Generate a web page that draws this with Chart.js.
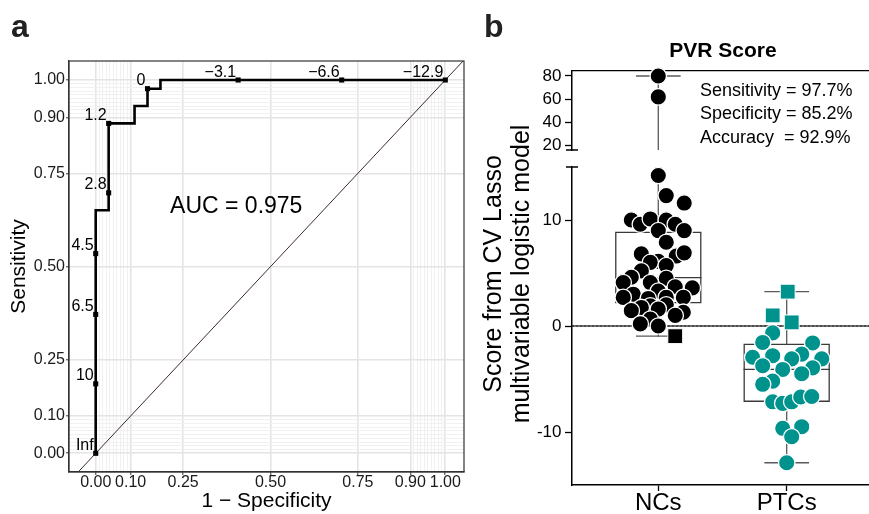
<!DOCTYPE html>
<html>
<head>
<meta charset="utf-8">
<script src="https://cdn.jsdelivr.net/npm/chart.js@4.4.1/dist/chart.umd.min.js"></script>
<style>
  html, body { margin: 0; padding: 0; background: #ffffff; }
  #stage { position: relative; width: 869px; height: 514px; overflow: hidden; background: #ffffff; }
  #stage canvas { position: absolute; left: 0; top: 0; }
</style>
</head>
<body>
<div id="stage">
  <canvas id="rocCanvas" width="869" height="514"></canvas>
  <canvas id="lowCanvas" width="869" height="514"></canvas>
  <canvas id="upCanvas" width="869" height="514"></canvas>
</div>
<script>
// ======================= DATA =======================
// ---- Panel a: ROC curve (43 NCs, 27 PTCs) ----
const rocFpr = [0, 0, 1/27, 1/27, 3/27, 3/27, 4/27, 4/27, 5/27, 5/27, 1];
const rocTpr = [0, 28/43, 28/43, 38/43, 38/43, 40/43, 40/43, 42/43, 42/43, 1, 1];
const thrLabels = ['Inf', '10', '6.5', '4.5', '2.8', '1.2', '0', '\u22123.1', '\u22126.6', '\u221212.9'];
const thrFpr = [0, 0, 0, 0, 1/27, 1/27, 4/27, 11/27, 19/27, 1];
const thrTpr = [0, 8/43, 16/43, 23/43, 30/43, 38/43, 42/43, 1, 1, 1];
const aucText = 'AUC = 0.975';
const rocMajorTicks = [0, 0.1, 0.25, 0.5, 0.75, 0.9, 1];
const rocMinorTicks = [0.01, 0.02, 0.03, 0.04, 0.05, 0.06, 0.07, 0.08, 0.09,
                       0.91, 0.92, 0.93, 0.94, 0.95, 0.96, 0.97, 0.98, 0.99];
const rocXTitle = '1 \u2212 Specificity';
const rocYTitle = 'Sensitivity';

// ---- Panel b: PVR score ----
const groups = ['NCs', 'PTCs'];
const groupPos = [1, 2];
const ncValues = [80, 62, 14.2, 12.3, 11.6, 10.0, 9.6, 10.1, 10.0, 9.6, 9.0, 9.0, 7.9, 6.8, 6.6,
                  6.9, 6.1, 6.0, 5.7, 5.2, 4.6, 4.1, 4.5, 4.1, 3.7, 3.6, 3.0, 2.7, 3.3, 2.7,
                  2.7, 2.6, 2.0, 1.9, 1.75, 1.45, 1.6, 1.3, 1.0, 0.65, 0.2, 0.0];
const ncSwarm  = [0, 0, 0, 0.062, 0.202, -0.210, -0.140, -0.062, 0.062, 0.132, 0, 0.202, 0.062, -0.132, 0.140,
                  0.202, 0, -0.062, 0.062, -0.132, -0.210, -0.273, 0.062, -0.062, 0.132, 0.265, -0.195, -0.273, 0, 0.062,
                  0.195, -0.078, 0.062, -0.062, -0.132, -0.210, 0, 0.195, 0.132, -0.062, -0.140, 0];
const ncMisValues = [-0.96];
const ncMisSwarm  = [0.132];
const ptcValues = [-0.65, -1.55, -1.6, -2.95, -2.8, -2.65, -3.1, -3.1, -3.75, -4.1, -3.95, -4.5,
                   -5.2, -5.5, -7.15, -7.3, -7.15, -6.7, -6.65, -9.65, -9.5, -10.45, -12.9];
const ptcSwarm  = [-0.109, -0.187, 0.202, -0.265, -0.109, 0.117, 0.039, 0.273, -0.187, -0.031, 0.202, 0.117,
                   -0.109, -0.187, -0.109, -0.031, 0.039, 0.109, 0.195, -0.031, 0.117, 0.039, 0];
const ptcMisValues = [3.24, 1.0, 0.34];
const ptcMisSwarm  = [0.008, -0.109, 0.039];
// box-plot statistics [NCs, PTCs]
const boxMin    = [-0.96, -12.9];
const boxQ1     = [2.2, -7.1];
const boxMedian = [4.56, -4.1];
const boxQ3     = [8.84, -1.73];
const boxMax    = [80, 3.25];
const lowerTicks = [-10, 0, 10];
const upperTicks = [20, 40, 60, 80];
const panelBTitle = 'PVR Score';
const statLines = ['Sensitivity = 97.7%', 'Specificity = 85.2%', 'Accuracy  = 92.9%'];
const yTitleB = ['Score from CV Lasso', 'multivariable logistic model'];

// ======================= STYLE / LAYOUT =======================
const FONT = "'Liberation Sans', Arial, Helvetica, sans-serif";
Chart.defaults.font.family = FONT;
Chart.defaults.color = '#000';

const X_A = { min: -0.0764, max: 1.0535 };
const Y_A = { min: -0.0501, max: 1.0509 };
const AUC_AT = { x: 0.402, y: 0.662 };
const X_B = { min: 0.328, max: 2.641 };
const LOWER = { min: -15, max: 15 };
const UPPER = { min: 16.3, max: 84.3 };
const BOX_HALF = 0.331;
const CAP_HALF = 0.169;
const NC_COLOR = '#000000';
const PTC_COLOR = '#00928d';
const DOT_R = 8.2;
const SQ_R = 10.5;

const base = {
  responsive: false, animation: false, devicePixelRatio: 1, events: [],
  plugins: { legend: { display: false }, tooltip: { enabled: false } }
};

// ======================= PANEL a =======================
const rocAllTicks = rocMajorTicks.concat(rocMinorTicks).sort((a, b) => a - b);
const isMajor = v => rocMajorTicks.some(m => Math.abs(m - v) < 1e-9);
const tv = c => (c && c.tick) ? c.tick.value : NaN;

function rocScale(isX) {
  return {
    type: 'linear',
    min: isX ? X_A.min : Y_A.min,
    max: isX ? X_A.max : Y_A.max,
    afterBuildTicks: s => { s.ticks = rocAllTicks.map(v => ({ value: v })); },
    afterFit: s => { if (isX) s.height = 42; else s.width = 69; },
    ticks: {
      autoSkip: false, maxRotation: 0, minRotation: 0,
      padding: isX ? 0 : 1, color: '#1a1a1a',
      font: { size: 16, lineHeight: 1 },
      callback: v => isMajor(v) ? Number(v).toFixed(2) : ''
    },
    grid: {
      color: c => isMajor(tv(c)) ? '#e4e4e4' : '#efefef',
      lineWidth: c => isMajor(tv(c)) ? 1.6 : 0.9,
      drawTicks: true, tickLength: 3, tickWidth: 1,
      tickColor: c => isMajor(tv(c)) ? '#333333' : 'rgba(0,0,0,0)'
    },
    border: { display: true, color: '#333333', width: 1.2 },
    title: {
      display: true, text: isX ? rocXTitle : rocYTitle, color: '#000',
      font: { size: 21 },
      padding: isX ? { top: 0, bottom: 0 } : { top: 7, bottom: 0 }
    }
  };
}

const rocDecor = {
  id: 'rocDecor',
  afterDatasetsDraw(chart) {
    const { ctx, chartArea: a, scales: { x, y } } = chart;
    ctx.save();
    ctx.strokeStyle = '#333333'; ctx.lineWidth = 1.2;
    ctx.strokeRect(a.left, a.top, a.right - a.left, a.bottom - a.top);
    ctx.fillStyle = '#000';
    ctx.font = `16px ${FONT}`; ctx.textAlign = 'right'; ctx.textBaseline = 'alphabetic';
    thrLabels.forEach((t, i) => {
      ctx.fillText(t, x.getPixelForValue(thrFpr[i]) - 2, y.getPixelForValue(thrTpr[i]) - 3.5);
    });
    ctx.font = `23px ${FONT}`; ctx.textAlign = 'center'; ctx.textBaseline = 'middle';
    ctx.fillText(aucText, x.getPixelForValue(AUC_AT.x), y.getPixelForValue(AUC_AT.y));
    ctx.font = `bold 32px ${FONT}`; ctx.textAlign = 'left'; ctx.textBaseline = 'alphabetic';
    ctx.fillStyle = '#222';
    ctx.fillText('a', 11, 37);
    ctx.restore();
  }
};

new Chart(document.getElementById('rocCanvas'), {
  type: 'scatter',
  data: {
    datasets: [
      { // identity reference line
        type: 'line', order: 5, clip: 0,
        data: [{ x: X_A.min - 0.2, y: X_A.min - 0.2 }, { x: X_A.max + 0.2, y: X_A.max + 0.2 }],
        borderColor: '#3d2b2b', borderWidth: 1, pointRadius: 0, pointHoverRadius: 0, fill: false, tension: 0
      },
      { // ROC step curve
        type: 'line', order: 2, clip: 0,
        data: rocFpr.map((f, i) => ({ x: f, y: rocTpr[i] })),
        borderColor: '#000', borderWidth: 2.6, borderJoinStyle: 'miter', borderCapStyle: 'butt',
        pointRadius: 0, pointHoverRadius: 0, fill: false, tension: 0
      },
      { // threshold markers
        type: 'scatter', order: 1, clip: false,
        data: thrFpr.map((f, i) => ({ x: f, y: thrTpr[i] })),
        pointStyle: 'rect', pointRadius: 3.6, pointHoverRadius: 3.6,
        backgroundColor: '#000', borderColor: '#000', borderWidth: 0
      }
    ]
  },
  options: Object.assign({}, base, {
    layout: { autoPadding: false, padding: { left: 0, top: 61, right: 405, bottom: 0 } },
    scales: { x: rocScale(true), y: rocScale(false) }
  }),
  plugins: [rocDecor]
});

// ======================= PANEL b =======================
function lineDs(points, color, width, order, dash) {
  return {
    type: 'line', order: order, clip: 0, data: points,
    borderColor: color, borderWidth: width, borderDash: dash || [],
    borderJoinStyle: 'miter', borderCapStyle: 'square',
    pointRadius: 0, pointHoverRadius: 0, fill: false, tension: 0
  };
}

function boxDatasets() {
  const ds = [];
  groupPos.forEach((c, g) => {
    ds.push(lineDs([
      { x: c - BOX_HALF, y: boxQ1[g] }, { x: c + BOX_HALF, y: boxQ1[g] },
      { x: c + BOX_HALF, y: boxQ3[g] }, { x: c - BOX_HALF, y: boxQ3[g] },
      { x: c - BOX_HALF, y: boxQ1[g] }], '#3a3a3a', 1.3, 8));
    ds.push(lineDs([{ x: c - BOX_HALF, y: boxMedian[g] }, { x: c + BOX_HALF, y: boxMedian[g] }], '#3a3a3a', 1.3, 8));
    ds.push(lineDs([{ x: c, y: boxQ3[g] }, { x: c, y: boxMax[g] }], '#5a5a5a', 1.3, 8));
    ds.push(lineDs([{ x: c, y: boxQ1[g] }, { x: c, y: boxMin[g] }], '#5a5a5a', 1.3, 8));
    ds.push(lineDs([{ x: c - CAP_HALF, y: boxMax[g] }, { x: c + CAP_HALF, y: boxMax[g] }], '#5a5a5a', 1.3, 8));
    ds.push(lineDs([{ x: c - CAP_HALF, y: boxMin[g] }, { x: c + CAP_HALF, y: boxMin[g] }], '#5a5a5a', 1.3, 8));
  });
  return ds;
}

function pts(values, swarm, center, keep) {
  return values.map((v, i) => ({ x: center + swarm[i], y: v })).filter(p => keep(p.y));
}

function pointDatasets(keep) {
  return [
    { type: 'scatter', order: 3, clip: false, data: pts(ncValues, ncSwarm, groupPos[0], keep),
      pointStyle: 'circle', pointRadius: DOT_R, pointHoverRadius: DOT_R,
      backgroundColor: NC_COLOR, borderColor: '#ffffff', borderWidth: 1.3 },
    { type: 'scatter', order: 3, clip: false, data: pts(ptcValues, ptcSwarm, groupPos[1], keep),
      pointStyle: 'circle', pointRadius: DOT_R, pointHoverRadius: DOT_R,
      backgroundColor: PTC_COLOR, borderColor: '#ffffff', borderWidth: 1.3 },
    { type: 'scatter', order: 1, clip: false, data: pts(ncMisValues, ncMisSwarm, groupPos[0], keep),
      pointStyle: 'rect', pointRadius: SQ_R, pointHoverRadius: SQ_R,
      backgroundColor: NC_COLOR, borderColor: '#ffffff', borderWidth: 1 },
    { type: 'scatter', order: 1, clip: false, data: pts(ptcMisValues, ptcMisSwarm, groupPos[1], keep),
      pointStyle: 'rect', pointRadius: SQ_R, pointHoverRadius: SQ_R,
      backgroundColor: PTC_COLOR, borderColor: '#ffffff', borderWidth: 1 }
  ];
}

function yScaleB(range, ticks) {
  return {
    type: 'linear', min: range.min, max: range.max,
    afterBuildTicks: s => { s.ticks = ticks.map(v => ({ value: v })); },
    afterFit: s => { s.width = 92; },
    ticks: { autoSkip: false, padding: 3.5, color: '#000', font: { size: 17, lineHeight: 1 } },
    grid: { drawOnChartArea: false, drawTicks: true, tickLength: 7, tickWidth: 1.3, tickColor: '#000' },
    border: { display: true, color: '#000', width: 1.5 }
  };
}

// ---- lower segment ----
const lowDecor = {
  id: 'lowDecor',
  afterDraw(chart) {
    const { ctx, chartArea: a } = chart;
    ctx.save();
    ctx.strokeStyle = '#000'; ctx.lineWidth = 1.5;
    ctx.beginPath(); ctx.moveTo(a.left - 6, a.top); ctx.lineTo(a.left + 6, a.top); ctx.stroke();
    ctx.fillStyle = '#000';
    ctx.font = `25px ${FONT}`; ctx.textAlign = 'center'; ctx.textBaseline = 'middle';
    ctx.translate(494, 274);
    ctx.rotate(-Math.PI / 2);
    ctx.fillText(yTitleB[0], 0, 0);
    ctx.fillText(yTitleB[1], 0, 28.5);
    ctx.restore();
  }
};

new Chart(document.getElementById('lowCanvas'), {
  type: 'scatter',
  data: {
    datasets: [
      lineDs([{ x: X_B.min, y: 0 }, { x: X_B.max, y: 0 }], '#111111', 1.6, 10, [2, 2])
    ].concat(boxDatasets(), pointDatasets(v => v <= LOWER.max))
  },
  options: Object.assign({}, base, {
    layout: { autoPadding: false, padding: { left: 480, top: 167, right: 0, bottom: 0 } },
    scales: {
      x: {
        type: 'linear', position: 'bottom', min: X_B.min, max: X_B.max,
        afterBuildTicks: s => { s.ticks = groupPos.map(v => ({ value: v })); },
        afterFit: s => { s.height = 29; },
        ticks: {
          autoSkip: false, maxRotation: 0, minRotation: 0, padding: 0, color: '#000',
          font: { size: 24, lineHeight: 1 },
          callback: (v, i) => groups[i]
        },
        grid: { drawOnChartArea: false, drawTicks: true, tickLength: 6, tickWidth: 1.3, tickColor: '#000' },
        border: { display: true, color: '#000', width: 1.5 }
      },
      y: yScaleB(LOWER, lowerTicks)
    }
  }),
  plugins: [lowDecor]
});

// ---- upper segment ----
const upDecor = {
  id: 'upDecor',
  afterDraw(chart) {
    const { ctx, chartArea: a } = chart;
    ctx.save();
    ctx.strokeStyle = '#000'; ctx.lineWidth = 1.5;
    ctx.beginPath(); ctx.moveTo(a.left - 6, a.bottom); ctx.lineTo(a.left + 6, a.bottom); ctx.stroke();
    ctx.fillStyle = '#000';
    ctx.font = `bold 21px ${FONT}`; ctx.textAlign = 'center'; ctx.textBaseline = 'alphabetic';
    ctx.fillText(panelBTitle, 723, 57);
    ctx.font = `18px ${FONT}`; ctx.textAlign = 'left';
    statLines.forEach((t, i) => ctx.fillText(t, 700, 96 + i * 23.3));
    ctx.font = `bold 32px ${FONT}`; ctx.fillStyle = '#222';
    ctx.fillText('b', 484, 37);
    ctx.restore();
  }
};

new Chart(document.getElementById('upCanvas'), {
  type: 'scatter',
  data: {
    datasets: boxDatasets().concat(pointDatasets(v => v >= UPPER.min))
  },
  options: Object.assign({}, base, {
    layout: { autoPadding: false, padding: { left: 480, top: 71, right: 0, bottom: 364 } },
    scales: {
      x: {
        type: 'linear', position: 'top', min: X_B.min, max: X_B.max,
        afterFit: s => { s.height = 0; },
        ticks: { display: false },
        grid: { drawOnChartArea: false, drawTicks: false },
        border: { display: true, color: '#000', width: 1.3 }
      },
      y: yScaleB(UPPER, upperTicks)
    }
  }),
  plugins: [upDecor]
});
</script>
</body>
</html>
